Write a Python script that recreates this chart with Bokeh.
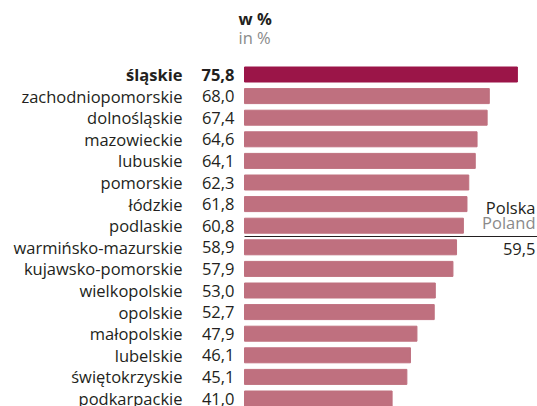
from bokeh.plotting import figure
from bokeh.models import ColumnDataSource, Range1d
from bokeh.core.properties import value
from bokeh.embed import file_html
from bokeh.resources import INLINE

# Voivodeships and their share (w % / in %)
regions = ["śląskie", "zachodniopomorskie", "dolnośląskie", "mazowieckie", "lubuskie",
           "pomorskie", "łódzkie", "podlaskie", "warmińsko-mazurskie", "kujawsko-pomorskie",
           "wielkopolskie", "opolskie", "małopolskie", "lubelskie", "świętokrzyskie",
           "podkarpackie"]
shares = [75.8, 68.0, 67.4, 64.6, 64.1, 62.3, 61.8, 60.8, 58.9, 57.9,
          53.0, 52.7, 47.9, 46.1, 45.1, 41.0]
poland_value = 59.5
poland_labels = ["Polska", "Poland"]

FONT = value("Open Sans")
FS = "16.5px"
W, H = 537, 406
X0_PX, PX_PER_UNIT = 244, 3.6
ROW0_PX, ROW_PX = 74, 21.6

rows = list(range(len(regions)))
labels = [f"{v:.1f}".replace(".", ",") for v in shares]
colors = ["#9b1548" if i == 0 else "#bf707f" for i in rows]
styles = ["bold" if i == 0 else "normal" for i in rows]

src = ColumnDataSource(dict(y=rows, v=shares, name=regions, lab=labels,
                            color=colors, style=styles))

p = figure(width=W, height=H, output_backend="svg", toolbar_location=None,
           min_border=0, outline_line_color=None)
p.x_range = Range1d(-X0_PX / PX_PER_UNIT, (W - X0_PX) / PX_PER_UNIT)
p.y_range = Range1d((H - ROW0_PX) / ROW_PX, -ROW0_PX / ROW_PX)
p.axis.visible = False
p.grid.visible = False

p.hbar(y="y", left=0, right="v", height=15 / ROW_PX, color="color", source=src)

p.text(x=0, y="y", text="name", x_offset=-62, text_align="right", text_baseline="middle",
       text_font=FONT, text_font_size=FS, text_font_style="style",
       text_color="#231f20", source=src)
p.text(x=0, y="y", text="lab", x_offset=-10, text_align="right", text_baseline="middle",
       text_font=FONT, text_font_size=FS, text_font_style="style",
       text_color="#231f20", source=src)

# header
p.text(x=[0], y=[(18 - ROW0_PX) / ROW_PX], text=["w %"], x_offset=-6, text_align="left",
       text_baseline="middle", text_font=FONT, text_font_size=FS,
       text_font_style="bold", text_color="#231f20")
p.text(x=[0], y=[(37 - ROW0_PX) / ROW_PX], text=["in %"], x_offset=-6, text_align="left",
       text_baseline="middle", text_font=FONT, text_font_size=FS,
       text_color="#8a8a8a")

# national average divider between rows above and below it
split = sum(1 for v in shares if v > poland_value) - 0.5
p.segment(x0=[0], x1=[(W - X0_PX) / PX_PER_UNIT], y0=[split], y1=[split],
          line_color="#231f20", line_width=1)
xr = (535 - X0_PX) / PX_PER_UNIT
p.text(x=[xr], y=[split - 1.35], text=[poland_labels[0]], text_align="right",
       text_baseline="middle", text_font=FONT, text_font_size=FS, text_color="#231f20")
p.text(x=[xr], y=[split - 0.65], text=[poland_labels[1]], text_align="right",
       text_baseline="middle", text_font=FONT, text_font_size=FS, text_color="#8a8a8a")
p.text(x=[xr], y=[split + 0.6], text=[f"{poland_value:.1f}".replace(".", ",")],
       text_align="right", text_baseline="middle", text_font=FONT,
       text_font_size=FS, text_color="#231f20")

open("out.html", "w").write(file_html(p, INLINE))
